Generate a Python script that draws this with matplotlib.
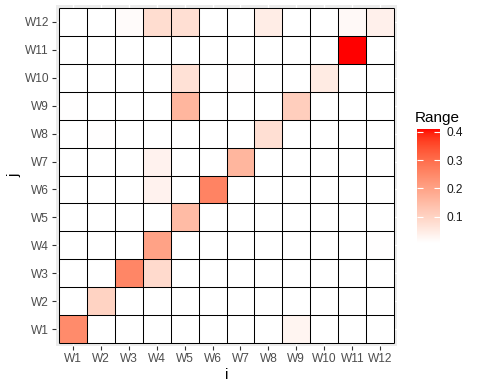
import matplotlib
matplotlib.use("Agg")
import matplotlib.pyplot as plt
from matplotlib.colors import ListedColormap
import numpy as np

plt.rcParams['font.family'] = ['Liberation Sans', 'DejaVu Sans']

# axis categories
weeks_i = ['W1', 'W2', 'W3', 'W4', 'W5', 'W6', 'W7', 'W8', 'W9', 'W10', 'W11', 'W12']
weeks_j = ['W1', 'W2', 'W3', 'W4', 'W5', 'W6', 'W7', 'W8', 'W9', 'W10', 'W11', 'W12']

# Range values, one row per j (W1 at bottom), columns are i
row_w1 = [0.245, 0.007, 0.007, 0.007, 0.007, 0.007, 0.007, 0.007, 0.030, 0.007, 0.007, 0.007]
row_w2 = [0.007, 0.100, 0.007, 0.007, 0.007, 0.007, 0.007, 0.007, 0.007, 0.007, 0.007, 0.007]
row_w3 = [0.007, 0.007, 0.255, 0.085, 0.007, 0.007, 0.007, 0.007, 0.007, 0.007, 0.007, 0.007]
row_w4 = [0.007, 0.007, 0.007, 0.200, 0.007, 0.007, 0.007, 0.007, 0.007, 0.007, 0.007, 0.010]
row_w5 = [0.007, 0.007, 0.007, 0.007, 0.150, 0.007, 0.007, 0.007, 0.007, 0.007, 0.007, 0.007]
row_w6 = [0.007, 0.007, 0.007, 0.035, 0.007, 0.260, 0.007, 0.007, 0.007, 0.007, 0.007, 0.007]
row_w7 = [0.007, 0.007, 0.007, 0.035, 0.007, 0.007, 0.160, 0.007, 0.007, 0.007, 0.007, 0.007]
row_w8 = [0.007, 0.009, 0.007, 0.007, 0.007, 0.007, 0.007, 0.075, 0.007, 0.007, 0.007, 0.007]
row_w9 = [0.010, 0.007, 0.007, 0.007, 0.160, 0.007, 0.007, 0.007, 0.110, 0.007, 0.007, 0.007]
row_w10 = [0.007, 0.007, 0.007, 0.007, 0.070, 0.007, 0.010, 0.007, 0.007, 0.050, 0.007, 0.007]
row_w11 = [0.007, 0.007, 0.007, 0.007, 0.007, 0.007, 0.007, 0.007, 0.007, 0.007, 0.410, 0.007]
row_w12 = [0.007, 0.007, 0.015, 0.080, 0.075, 0.007, 0.007, 0.045, 0.007, 0.007, 0.020, 0.040]

values = np.array([row_w1, row_w2, row_w3, row_w4, row_w5, row_w6,
                   row_w7, row_w8, row_w9, row_w10, row_w11, row_w12])


def lab_to_rgb(L, a, b):
    # CIE Lab (D65) -> sRGB
    fy = (L + 16) / 116
    fx = fy + a / 500
    fz = fy - b / 200
    def finv(t):
        return np.where(t > 6 / 29, t ** 3, 3 * (6 / 29) ** 2 * (t - 4 / 29))
    X = 0.95047 * finv(fx)
    Y = 1.00000 * finv(fy)
    Z = 1.08883 * finv(fz)
    r = 3.2406 * X - 1.5372 * Y - 0.4986 * Z
    g = -0.9689 * X + 1.8758 * Y + 0.0415 * Z
    bb = 0.0557 * X - 0.2040 * Y + 1.0570 * Z
    rgb = np.stack([r, g, bb], axis=-1)
    rgb = np.where(rgb <= 0.0031308, 12.92 * rgb, 1.055 * np.clip(rgb, 0, None) ** (1 / 2.4) - 0.055)
    return np.clip(rgb, 0, 1)


# white -> red gradient interpolated in Lab, like ggplot
t = np.linspace(0, 1, 256)
white_lab = np.array([100.0, 0.0, 0.0])
red_lab = np.array([53.24, 80.09, 67.20])
lab = white_lab[None, :] + t[:, None] * (red_lab - white_lab)[None, :]
cmap = ListedColormap(lab_to_rgb(lab[:, 0], lab[:, 1], lab[:, 2]))

fig = plt.figure(figsize=(4.79, 3.90), dpi=100)
ax = fig.add_axes([56 / 479, 1 - 346 / 390, 341 / 479, 341 / 390])
ax.set_facecolor('#EBEBEB')

edges = np.arange(len(weeks_i) + 1) - 0.5
mesh = ax.pcolormesh(edges, edges, values, cmap=cmap,
                     vmin=values.min(), vmax=values.max(), zorder=2)
# tile borders
ax.vlines(edges, edges[0], edges[-1], color='black', linewidth=0.75, zorder=3)
ax.hlines(edges, edges[0], edges[-1], color='black', linewidth=0.75, zorder=3)

ax.set_xlim(-0.6, len(weeks_i) - 0.4)
ax.set_ylim(-0.6, len(weeks_j) - 0.4)
ax.set_xticks(range(len(weeks_i)))
ax.set_xticklabels(weeks_i)
ax.set_yticks(range(len(weeks_j)))
ax.set_yticklabels(weeks_j)
ax.grid(True, color='white', linewidth=1.0, zorder=0)
ax.set_axisbelow(True)
for s in ax.spines.values():
    s.set_visible(False)
ax.tick_params(colors='#333333', length=3, width=0.8, labelsize=8.6,
               labelcolor='#4D4D4D', pad=2)
ax.set_xlabel('i', fontsize=11, labelpad=2)
ax.set_ylabel('j', fontsize=11, labelpad=2)

# legend colour bar
cax = fig.add_axes([417 / 479, 1 - 243 / 390, 23 / 479, 114 / 390])
cb = fig.colorbar(mesh, cax=cax, ticks=[0.1, 0.2, 0.3, 0.4])
cb.outline.set_visible(False)
cax.tick_params(direction='in', color='white', length=4, width=0.8,
                left=True, right=True, labelleft=False, labelright=True,
                labelsize=8.6, labelcolor='#1A1A1A', pad=5)
cax.set_yticklabels(['0.1', '0.2', '0.3', '0.4'])
fig.text(415 / 479, 1 - 118 / 390, 'Range', fontsize=11, va='center', ha='left')

fig.savefig('out.png', dpi=100)
